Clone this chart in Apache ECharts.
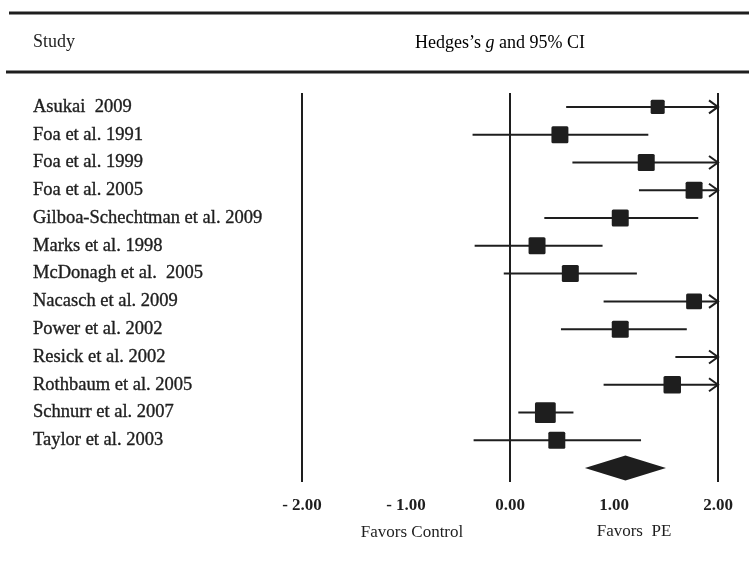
<!DOCTYPE html>
<html>
<head>
<meta charset="utf-8">
<script src="https://cdn.jsdelivr.net/npm/echarts@6/dist/echarts.min.js"></script>
<style>
html,body{margin:0;padding:0;background:#fff;}
#chart{width:749px;height:575px;}
</style>
</head>
<body>
<div id="chart"></div>
<script>
// ---- data ----
const studies = ['Asukai  2009','Foa et al. 1991','Foa et al. 1999','Foa et al. 2005','Gilboa-Schechtman et al. 2009','Marks et al. 1998','McDonagh et al.  2005','Nacasch et al. 2009','Power et al. 2002','Resick et al. 2002','Rothbaum et al. 2005','Schnurr et al. 2007','Taylor et al. 2003'];
const hedgesG = [1.42, 0.48, 1.31, 1.77, 1.06, 0.26, 0.58, 1.77, 1.06, 2.35, 1.56, 0.34, 0.45];
const ciLower = [0.54, -0.36, 0.60, 1.24, 0.33, -0.34, -0.06, 0.90, 0.49, 1.59, 0.90, 0.08, -0.35];
const ciUpper = [2.30, 1.33, 2.25, 2.30, 1.81, 0.89, 1.22, 2.64, 1.70, 3.11, 2.22, 0.61, 1.26];
const weights = [5.5, 8, 8, 8, 8, 8, 8, 7, 8, 7, 8.5, 12, 8];
const pooledG = [1.11];
const pooledLower = [0.72];
const pooledUpper = [1.50];
const xTicks = [-2, -1, 0, 1, 2];
const refLines = [-2, 0, 2];

// ---- chart ----
const FONT = '"Liberation Serif", "DejaVu Serif", serif';
const INK = '#1e1e1e';
const chart = echarts.init(document.getElementById('chart'), null, {renderer: 'canvas'});
const cats = studies.concat(['']);
const xMin = xTicks[0], xMax = xTicks[xTicks.length - 1];

const studyData = studies.map((s, i) => [i, hedgesG[i], ciLower[i], ciUpper[i], weights[i]]);
const pooledData = pooledG.map((g, i) => [studies.length, g, pooledLower[i], pooledUpper[i]]);

chart.setOption({
  animation: false,
  grid: {left: 302, right: 31, top: 93, bottom: 93},
  xAxis: {
    type: 'value', min: xMin, max: xMax, interval: 1,
    axisLine: {show: false}, axisTick: {show: false}, splitLine: {show: false},
    axisLabel: {
      margin: 15, color: INK, fontFamily: FONT, fontSize: 17, fontWeight: 'bold',
      formatter: v => v < 0 ? '- ' + Math.abs(v).toFixed(2) : v.toFixed(2)
    }
  },
  yAxis: {
    type: 'category', data: cats, inverse: true,
    axisLine: {show: false}, axisTick: {show: false}, splitLine: {show: false},
    axisLabel: {interval: 0, align: 'left', margin: 269, color: INK, fontFamily: FONT, fontSize: 18.5,
      textBorderColor: INK, textBorderWidth: 0.35}
  },
  graphic: [
    {type: 'line', shape: {x1: 9, y1: 13, x2: 749, y2: 13}, style: {stroke: INK, lineWidth: 3}},
    {type: 'line', shape: {x1: 6, y1: 72, x2: 749, y2: 72}, style: {stroke: INK, lineWidth: 3}},
    {type: 'text', left: 33, top: 33, style: {text: 'Study', fill: INK, font: '18px ' + FONT}},
    {type: 'text', x: 500, y: 43, style: {
      text: "{n|Hedges\u2019s }{i|g}{n| and 95% CI}", align: 'center', verticalAlign: 'middle',
      rich: {n: {fontFamily: FONT, fontSize: 18, color: INK}, i: {fontFamily: FONT, fontSize: 18, fontStyle: 'italic', color: INK}}
    }},
    {type: 'text', x: 412, y: 533, style: {text: 'Favors Control', align: 'center', verticalAlign: 'middle', fill: INK, font: '17px ' + FONT}},
    {type: 'text', x: 634, y: 532, style: {text: 'Favors  PE', align: 'center', verticalAlign: 'middle', fill: INK, font: '17px ' + FONT}}
  ],
  series: [
    {
      type: 'custom', name: 'ref', data: refLines.map(v => [v]),
      encode: {x: 0},
      renderItem(params, api) {
        const cs = params.coordSys;
        const x = api.coord([api.value(0), 0])[0];
        return {type: 'line', shape: {x1: x, y1: cs.y, x2: x, y2: cs.y + cs.height},
          style: {stroke: INK, lineWidth: 2}};
      }
    },
    {
      type: 'custom', name: 'studies', data: studyData,
      encode: {x: [1, 2, 3], y: 0},
      renderItem(params, api) {
        const row = api.value(0);
        const g = api.value(1), lo = api.value(2), hi = api.value(3), w = api.value(4);
        const y = api.coord([0, row])[1];
        const xl = api.coord([Math.max(lo, xMin), row])[0];
        const xh = api.coord([Math.min(hi, xMax), row])[0];
        const children = [{type: 'line', shape: {x1: xl, y1: y, x2: xh, y2: y}, style: {stroke: INK, lineWidth: 2}}];
        if (hi > xMax) {
          children.push({type: 'polyline', shape: {points: [[xh - 9, y - 6.5], [xh, y], [xh - 9, y + 6.5]]},
            style: {stroke: INK, lineWidth: 2, fill: null}});
        }
        if (g <= xMax) {
          const s = 6 * Math.sqrt(w);
          const xg = api.coord([g, row])[0];
          children.push({type: 'rect', shape: {x: xg - s / 2, y: y - s / 2, width: s, height: s, r: 1.5}, style: {fill: INK}});
        }
        return {type: 'group', children};
      }
    },
    {
      type: 'custom', name: 'pooled', data: pooledData,
      encode: {x: [1, 2, 3], y: 0},
      renderItem(params, api) {
        const row = api.value(0);
        const y = api.coord([0, row])[1];
        const xg = api.coord([api.value(1), row])[0];
        const xl = api.coord([api.value(2), row])[0];
        const xh = api.coord([api.value(3), row])[0];
        return {type: 'polygon', shape: {points: [[xl, y], [xg, y - 12.5], [xh, y], [xg, y + 12.5]]}, style: {fill: INK}};
      }
    }
  ]
});
</script>
</body>
</html>
